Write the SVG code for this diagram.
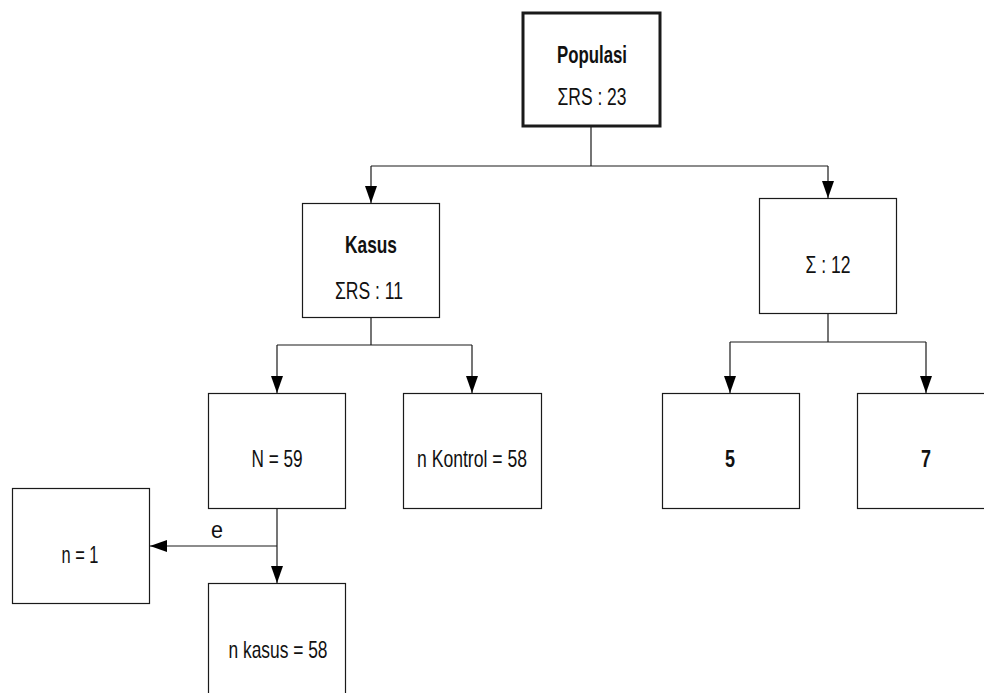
<svg xmlns="http://www.w3.org/2000/svg" width="984" height="693" viewBox="0 0 984 693">
<style>
.box{fill:#fff;stroke:#1a1a1a;stroke-width:1.2}
.thick{stroke-width:3}
.ln{fill:none;stroke:#1a1a1a;stroke-width:1.2}
text{font-family:"Liberation Sans",Arial,sans-serif;font-size:24px;fill:#111;text-anchor:middle}
.b{font-weight:bold}
</style>
<defs>
<marker id="ah" markerUnits="userSpaceOnUse" markerWidth="18" markerHeight="14" refX="17" refY="6" orient="auto">
<path d="M0,0 L17,6 L0,12 z" fill="#000"/>
</marker>
</defs>
<rect width="984" height="693" fill="#fff"/>
<g id="connectors">
<path class="ln" d="M591,127 V166 M371,166 H828"/>
<path class="ln" d="M371,166 V203" marker-end="url(#ah)"/>
<path class="ln" d="M828,166 V198" marker-end="url(#ah)"/>
<path class="ln" d="M371,317 V345 M277,345 H472"/>
<path class="ln" d="M277,345 V393" marker-end="url(#ah)"/>
<path class="ln" d="M472,345 V393" marker-end="url(#ah)"/>
<path class="ln" d="M828,313 V342 M730,342 H926"/>
<path class="ln" d="M730,342 V393" marker-end="url(#ah)"/>
<path class="ln" d="M926,342 V393" marker-end="url(#ah)"/>
<path class="ln" d="M277,508 V583" marker-end="url(#ah)"/>
<path class="ln" d="M277,546 H150" marker-end="url(#ah)"/>
<text x="217" y="538" textLength="12" lengthAdjust="spacingAndGlyphs">e</text>
</g>
<g id="populasi">
<rect class="box thick" x="523" y="13" width="137" height="113"/>
<text class="b" x="592" y="63" textLength="70" lengthAdjust="spacingAndGlyphs">Populasi</text>
<text x="592" y="105" textLength="69" lengthAdjust="spacingAndGlyphs">ΣRS : 23</text>
</g>
<g id="kasus">
<rect class="box" x="302.5" y="203.5" width="137" height="114"/>
<text class="b" x="371" y="253" textLength="52" lengthAdjust="spacingAndGlyphs">Kasus</text>
<text x="369" y="299" textLength="68" lengthAdjust="spacingAndGlyphs">ΣRS : 11</text>
</g>
<g id="sigma12">
<rect class="box" x="759.5" y="198.5" width="137" height="115"/>
<text x="828" y="273" textLength="45" lengthAdjust="spacingAndGlyphs">Σ : 12</text>
</g>
<g id="n59">
<rect class="box" x="208.5" y="393.5" width="137" height="115"/>
<text x="277" y="467" textLength="51" lengthAdjust="spacingAndGlyphs">N = 59</text>
</g>
<g id="kontrol">
<rect class="box" x="403.5" y="393.5" width="138" height="115"/>
<text x="472" y="467" textLength="110" lengthAdjust="spacingAndGlyphs">n Kontrol = 58</text>
</g>
<g id="five">
<rect class="box" x="662.5" y="393.5" width="137" height="115"/>
<text class="b" x="730" y="467" textLength="10" lengthAdjust="spacingAndGlyphs">5</text>
</g>
<g id="seven">
<rect class="box" x="857.5" y="393.5" width="137" height="115"/>
<text class="b" x="926" y="467" textLength="10" lengthAdjust="spacingAndGlyphs">7</text>
</g>
<g id="n1">
<rect class="box" x="12.5" y="488.5" width="137" height="115"/>
<text x="80" y="563" textLength="37" lengthAdjust="spacingAndGlyphs">n = 1</text>
</g>
<g id="nkasus">
<rect class="box" x="208.5" y="583.5" width="137" height="120"/>
<text x="278" y="658" textLength="99" lengthAdjust="spacingAndGlyphs">n kasus = 58</text>
</g>
</svg>
